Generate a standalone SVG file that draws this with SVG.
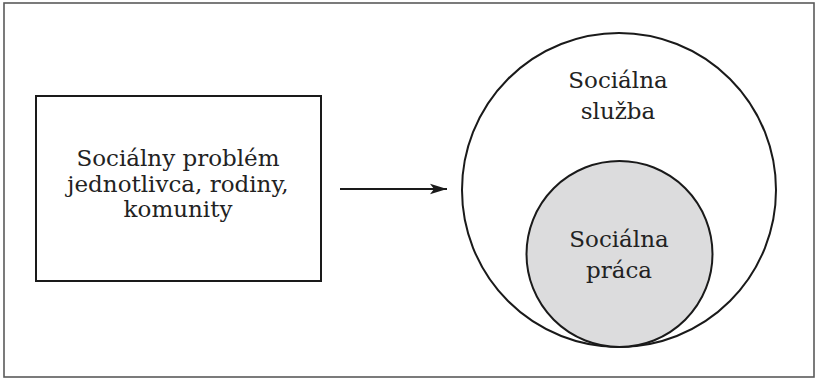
<svg xmlns="http://www.w3.org/2000/svg" width="816" height="379" viewBox="0 0 816 379">
<style>
.frame{fill:#fff;stroke:#5a5a5a;stroke-width:1.6}
.node{stroke:#1a1a1a;stroke-width:2}
.lbl{font-family:"DejaVu Serif","Liberation Serif",serif;font-size:23px;fill:#222;text-anchor:middle}
.conn{stroke:#1a1a1a;stroke-width:2;fill:none}
</style>
<defs>
<marker id="arr" markerWidth="18" markerHeight="12" refX="17" refY="6" orient="auto" markerUnits="userSpaceOnUse">
<path d="M0,0.8 L17,6 L0,11.2 L4,6 Z" fill="#1a1a1a"/>
</marker>
</defs>
<rect class="frame" x="4" y="3" width="810" height="374"/>
<g id="problem">
<rect class="node" x="36" y="96" width="285" height="185" fill="#fff"/>
<text class="lbl" x="178" y="166">Sociálny problém</text>
<text class="lbl" x="178" y="192">jednotlivca, rodiny,</text>
<text class="lbl" x="178" y="217">komunity</text>
</g>
<g id="sluzba">
<circle class="node" cx="619" cy="190" r="157" fill="#fff"/>
<text class="lbl" x="618" y="88">Sociálna</text>
<text class="lbl" x="618" y="119">služba</text>
</g>
<g id="praca">
<circle class="node" cx="619.5" cy="254" r="93" fill="#dcdcdd"/>
<text class="lbl" x="619" y="247">Sociálna</text>
<text class="lbl" x="619" y="278">práca</text>
</g>
<g id="connectors">
<line class="conn" x1="340" y1="189" x2="447" y2="189" marker-end="url(#arr)"/>
</g>
</svg>
